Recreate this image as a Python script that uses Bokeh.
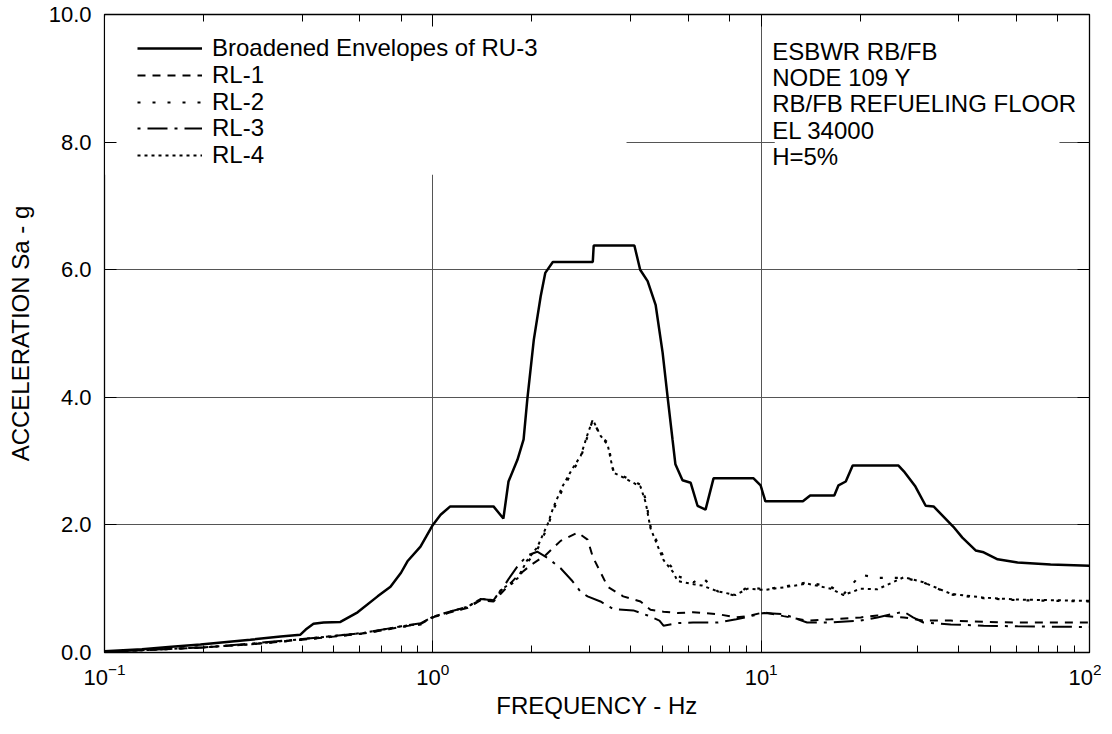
from bokeh.plotting import figure
from bokeh.models import (LogAxis, LinearAxis, FixedTicker, LogTicker, PrintfTickFormatter,
                          Legend, LegendItem, Label, BoxAnnotation, Range1d)
from bokeh.embed import file_html
from bokeh.resources import INLINE

FONT = "Liberation Sans"

# ---------------- data ----------------
ru3_f = [0.1, 0.13, 0.16, 0.196, 0.24, 0.278, 0.344, 0.395, 0.41, 0.433,
         0.465, 0.523, 0.59, 0.679, 0.743, 0.80, 0.837, 0.917, 1.0, 1.056,
         1.13, 1.53, 1.64, 1.70, 1.81, 1.89, 1.94, 2.03, 2.13, 2.20,
         2.32, 3.07, 3.09, 4.11, 4.28, 4.51, 4.77, 5.01, 5.19, 5.37,
         5.48, 5.76, 6.10, 6.40, 6.77, 7.16, 9.48, 9.96, 10.3, 13.4,
         14.1, 16.7, 17.2, 18.1, 19.0, 26.2, 27.2, 29.5, 31.7, 33.5,
         38.5, 41.0, 45.0, 47.6, 52.5, 60.4, 76.1, 100]
ru3_a = [0.02, 0.05, 0.09, 0.125, 0.17, 0.20, 0.25, 0.28, 0.36, 0.45,
         0.47, 0.48, 0.63, 0.88, 1.03, 1.25, 1.43, 1.66, 2.0, 2.16,
         2.29, 2.29, 2.10, 2.68, 3.02, 3.34, 3.97, 4.9, 5.58, 5.95,
         6.12, 6.12, 6.38, 6.38, 6.0, 5.82, 5.45, 4.70, 4.0, 3.34,
         2.95, 2.70, 2.66, 2.30, 2.24, 2.73, 2.73, 2.62, 2.37, 2.37,
         2.46, 2.46, 2.62, 2.68, 2.93, 2.93, 2.84, 2.60, 2.30, 2.29,
         1.97, 1.80, 1.60, 1.57, 1.46, 1.41, 1.38, 1.36]

rl1_f = [0.1, 0.15, 0.2, 0.28, 0.4, 0.5, 0.62, 0.8, 0.92, 1.0,
         1.11, 1.28, 1.4, 1.53, 1.61, 1.81, 2.0, 2.2, 2.45, 2.76,
         2.96, 3.07, 3.41, 3.8, 4.29, 4.6, 5.04, 5.56, 6.2, 7.4,
         8.4, 9.1, 10.2, 11.7, 13.8, 16.3, 20.1, 22.6, 27.2, 31.2,
         37.8, 47.6, 60.4, 100]
rl1_a = [0.01, 0.05, 0.08, 0.13, 0.20, 0.25, 0.30, 0.40, 0.45, 0.55,
         0.62, 0.70, 0.82, 0.80, 0.92, 1.20, 1.38, 1.52, 1.75, 1.88,
         1.77, 1.50, 1.03, 0.88, 0.80, 0.67, 0.64, 0.62, 0.63, 0.60,
         0.55, 0.57, 0.63, 0.57, 0.50, 0.52, 0.55, 0.58, 0.55, 0.50,
         0.50, 0.48, 0.47, 0.47]

rl3_f = [0.1, 0.15, 0.2, 0.28, 0.4, 0.5, 0.62, 0.8, 0.92, 1.0,
         1.11, 1.28, 1.4, 1.53, 1.61, 1.70, 1.81, 1.94, 2.08, 2.24,
         2.45, 2.66, 2.82, 2.96, 3.24, 3.55, 4.08, 4.51, 4.9, 5.04,
         5.56, 6.2, 7.4, 8.4, 9.1, 10.2, 11.7, 13.8, 16.3, 20.1,
         22.6, 25.0, 27.2, 29.0, 31.2, 37.8, 47.6, 60.4, 100]
rl3_a = [0.01, 0.05, 0.08, 0.14, 0.21, 0.26, 0.31, 0.41, 0.46, 0.56,
         0.63, 0.72, 0.84, 0.82, 0.96, 1.15, 1.35, 1.52, 1.58, 1.48,
         1.32, 1.12, 0.95, 0.88, 0.80, 0.68, 0.66, 0.58, 0.50, 0.42,
         0.46, 0.47, 0.47, 0.52, 0.56, 0.62, 0.60, 0.47, 0.47, 0.50,
         0.55, 0.60, 0.64, 0.55, 0.47, 0.44, 0.42, 0.41, 0.40]

rl2_f = [0.1, 0.15, 0.2, 0.28, 0.4, 0.5, 0.62, 0.8, 0.92, 1.0,
         1.11, 1.28, 1.4, 1.53, 1.61, 1.81, 1.94, 2.08, 2.24, 2.33,
         2.48, 2.66, 2.82, 2.96, 3.07, 3.24, 3.41, 3.55, 3.81, 4.29,
         4.45, 4.60, 4.83, 5.04, 5.41, 5.56, 6.22, 6.6, 7.36, 8.35,
         9.09, 10.2, 11.7, 13.8, 16.3, 17.8, 20.1, 22.6, 27.2, 31.2,
         37.8, 47.6, 60.4, 100]
rl2_a = [0.01, 0.05, 0.08, 0.13, 0.20, 0.25, 0.30, 0.40, 0.44, 0.55,
         0.62, 0.71, 0.83, 0.81, 0.96, 1.14, 1.41, 1.61, 1.98, 2.24,
         2.55, 2.84, 3.05, 3.39, 3.65, 3.39, 3.29, 2.84, 2.76, 2.63,
         2.40, 1.98, 1.72, 1.50, 1.30, 1.20, 1.10, 1.18, 0.96, 0.89,
         1.03, 0.99, 1.03, 1.10, 1.03, 0.91, 1.22, 1.17, 1.17, 1.10,
         0.91, 0.85, 0.82, 0.80]

rl4_f = list(rl2_f)
rl4_a = [0.01, 0.05, 0.08, 0.13, 0.21, 0.26, 0.31, 0.41, 0.45, 0.56,
         0.63, 0.72, 0.84, 0.82, 0.98, 1.16, 1.45, 1.65, 2.02, 2.28,
         2.60, 2.88, 3.08, 3.42, 3.65, 3.40, 3.25, 2.82, 2.74, 2.60,
         2.35, 1.95, 1.68, 1.45, 1.25, 1.12, 1.07, 1.05, 0.96, 0.90,
         1.00, 0.98, 1.02, 1.08, 1.00, 0.90, 1.00, 0.99, 1.18, 1.10,
         0.92, 0.86, 0.83, 0.81]

series_labels = ["Broadened Envelopes of RU-3", "RL-1", "RL-2", "RL-3", "RL-4"]
y_ticks = [0, 2, 4, 6, 8, 10]
info_lines = ["ESBWR RB/FB", "NODE 109 Y", "RB/FB REFUELING FLOOR", "EL 34000", "H=5%"]

# ---------------- figure ----------------
p = figure(frame_width=985, frame_height=638, x_axis_type="log",
           x_range=Range1d(0.1, 100), y_range=Range1d(0, 10),
           output_backend="svg", toolbar_location=None,
           min_border_left=104, min_border_right=12, min_border_top=14, min_border_bottom=76,
           background_fill_color="white", border_fill_color="white")

p.outline_line_color = "black"
p.outline_line_width = 1.3

GRID = "#555555"
p.xgrid.grid_line_color = GRID
p.xgrid.grid_line_width = 1
p.ygrid.grid_line_color = GRID
p.ygrid.grid_line_width = 1
p.ygrid.ticker = FixedTicker(ticks=[2, 4, 6, 8])

# white boxes that hide the grid behind the legend and the info text
for l, r, b, t in [(0.1005, 3.89, 7.49, 9.97), (11.0, 81.0, 7.2, 9.97)]:
    p.add_layout(BoxAnnotation(left=l, right=r, bottom=b, top=t, fill_color="white",
                               fill_alpha=1.0, line_color=None, level="underlay"))

# axes
xa = p.xaxis[0]
ya = p.yaxis[0]
xa.major_tick_in = 12
xa.major_tick_out = 0
xa.minor_tick_in = 7
xa.minor_tick_out = 0
xa.major_label_standoff = 10
xa.axis_label = "FREQUENCY - Hz"
xa.axis_label_standoff = 4

ya.ticker = FixedTicker(ticks=y_ticks)
ya.formatter = PrintfTickFormatter(format="%.1f")
ya.major_tick_in = 12
ya.major_tick_out = 0
ya.major_label_standoff = 13
ya.axis_label = "ACCELERATION Sa - g"
ya.axis_label_standoff = 12

top = LogAxis(ticker=LogTicker(), major_tick_in=12, major_tick_out=0,
              minor_tick_in=7, minor_tick_out=0,
              major_label_text_font_size="1px", major_label_text_color=None,
              major_label_standoff=0)
right = LinearAxis(ticker=FixedTicker(ticks=y_ticks), major_tick_in=12, major_tick_out=0,
                   major_label_text_font_size="1px", major_label_text_color=None,
                   major_label_standoff=0)
p.add_layout(top, "above")
p.add_layout(right, "right")

for ax in (xa, ya, top, right):
    ax.axis_line_color = None
    ax.major_tick_line_color = "black"
    ax.major_tick_line_width = 1
    ax.axis_label_text_font = FONT
    ax.axis_label_text_font_style = "normal"
    ax.axis_label_text_color = "black"
    ax.major_label_text_font = FONT
for ax in (xa, top):
    ax.minor_tick_line_color = "black"
    ax.minor_tick_line_width = 1
for ax in (ya, right):
    ax.minor_tick_line_color = None
for ax in (xa, ya):
    ax.major_label_text_color = "black"
    ax.major_label_text_font_size = "22px"
    ax.axis_label_text_font_size = "24px"

# curves
r0 = p.line(ru3_f, ru3_a, line_color="black", line_width=2.5)
r1 = p.line(rl1_f, rl1_a, line_color="black", line_width=2, line_dash="8 7")
r2 = p.line(rl2_f, rl2_a, line_color="black", line_width=2.2, line_dash="3 12")
r3 = p.line(rl3_f, rl3_a, line_color="black", line_width=2, line_dash="20 7 3 7",
            line_dash_offset=27)
r4 = p.line(rl4_f, rl4_a, line_color="black", line_width=2, line_dash="3 4")

# one single-row legend per series, stacked about 26.8 px apart from the frame top
for i, (lab, r) in enumerate(zip(series_labels, [r0, r1, r2, r3, r4])):
    lg = Legend(items=[LegendItem(label=lab, renderers=[r])],
                location=(33, 590 - 26.8 * i), padding=0, margin=0, spacing=0,
                glyph_width=65, glyph_height=24, label_height=24, label_standoff=10,
                label_text_font=FONT, label_text_font_size="24px", label_text_color="black",
                background_fill_alpha=0, border_line_color=None)
    p.add_layout(lg)

p.add_layout(Label(x=10.8, y=9.63, text="\n".join(info_lines), text_font=FONT,
                   text_font_size="24px", text_color="black", text_baseline="top",
                   text_line_height=0.97))

open("out.html", "w").write(file_html(p, INLINE))
